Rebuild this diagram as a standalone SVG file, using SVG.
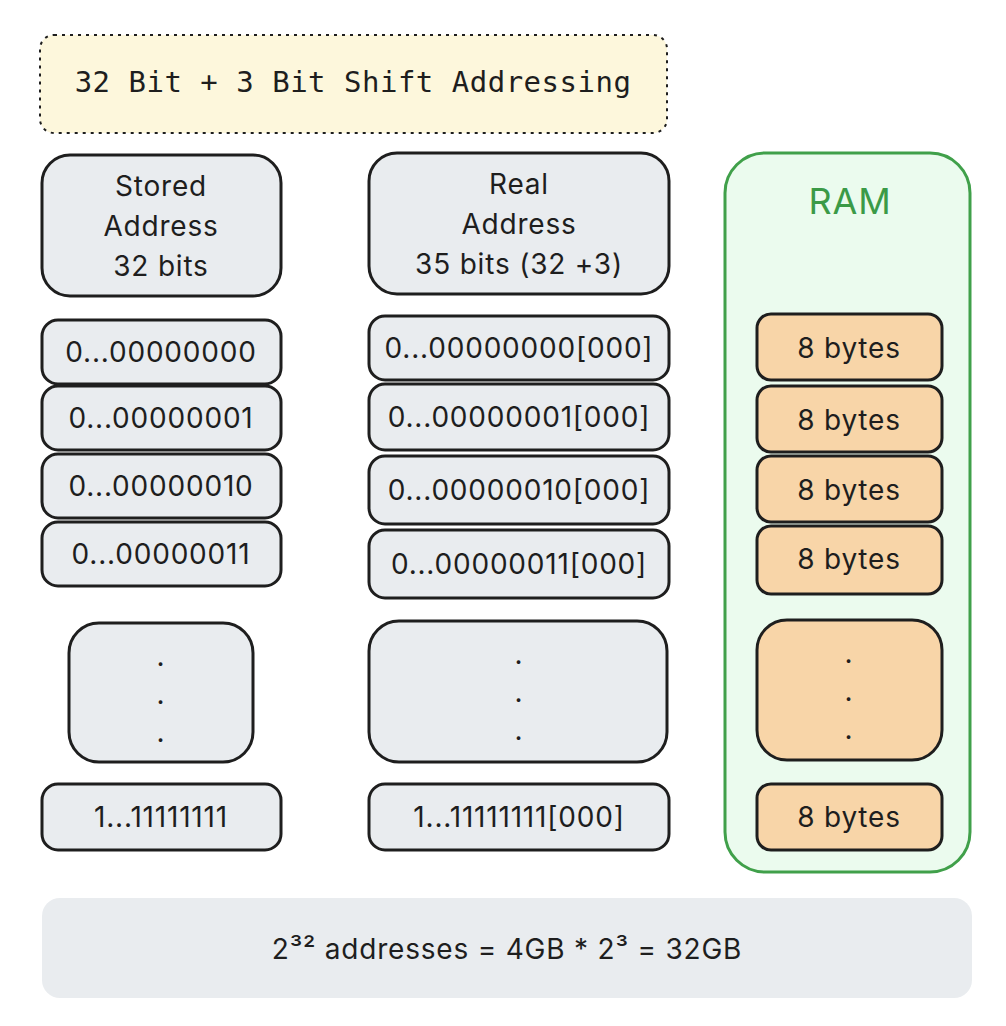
<svg xmlns="http://www.w3.org/2000/svg" width="1006" height="1026" viewBox="0 0 1006 1026">
<style>
.b{fill:#e9ecef;stroke:#1e1e1e;stroke-width:3}
.r{fill:#f8d5a8;stroke:#1e1e1e;stroke-width:3}
text{font-family:Inter,"Noto Sans",sans-serif;font-size:28px;letter-spacing:0.8px;fill:#1e1e1e;text-anchor:middle}
.m{font-family:"DejaVu Sans Mono","Liberation Mono",monospace;font-size:29px;letter-spacing:0.5px}
</style>
<rect width="1006" height="1026" fill="#fff"/>
<g id="title"><rect x="40" y="35" width="627" height="98" rx="14" fill="#fdf7dc" stroke="#1e1e1e" stroke-width="2" stroke-dasharray="3 5"/><text class="m" x="353" y="92">32 Bit + 3 Bit Shift Addressing</text></g>
<g id="ram"><rect x="725" y="153" width="245" height="719" rx="40" fill="#ebfbee" stroke="#40a04a" stroke-width="3"/><text x="850" y="214" style="fill:#3b9a47;font-size:36px">RAM</text></g>
<g id="stored-h"><rect class="b" x="42" y="155" width="239" height="141" rx="28"/><text x="161" y="196">Stored</text><text x="161" y="236">Address</text><text x="161" y="276">32 bits</text></g>
<g id="real-h"><rect class="b" x="369" y="153" width="300" height="141" rx="28"/><text x="519" y="194">Real</text><text x="519" y="234">Address</text><text x="519" y="274">35 bits (32 +3)</text></g>
<g id="s0"><rect class="b" x="42" y="320" width="239" height="64" rx="16"/><text x="161" y="362">0...00000000</text></g>
<g id="s1"><rect class="b" x="42" y="386" width="239" height="64" rx="16"/><text x="161" y="428">0...00000001</text></g>
<g id="s2"><rect class="b" x="42" y="454" width="239" height="64" rx="16"/><text x="161" y="496">0...00000010</text></g>
<g id="s3"><rect class="b" x="42" y="522" width="239" height="64" rx="16"/><text x="161" y="564">0...00000011</text></g>
<g id="sd"><rect class="b" x="69" y="623" width="184" height="139" rx="30"/><text x="161" y="666">.</text><text x="161" y="704">.</text><text x="161" y="742">.</text></g>
<g id="sl"><rect class="b" x="42" y="784" width="239" height="66" rx="16"/><text x="161" y="827">1...11111111</text></g>
<g id="r0"><rect class="b" x="369" y="316" width="300" height="64" rx="16"/><text x="519" y="358">0...00000000[000]</text></g>
<g id="r1"><rect class="b" x="369" y="384" width="300" height="66" rx="16"/><text x="519" y="427">0...00000001[000]</text></g>
<g id="r2"><rect class="b" x="369" y="456" width="300" height="68" rx="16"/><text x="519" y="500">0...00000010[000]</text></g>
<g id="r3"><rect class="b" x="369" y="530" width="300" height="68" rx="16"/><text x="519" y="574">0...00000011[000]</text></g>
<g id="rd"><rect class="b" x="369" y="621" width="298" height="141" rx="30"/><text x="519" y="664">.</text><text x="519" y="702">.</text><text x="519" y="740">.</text></g>
<g id="rl"><rect class="b" x="369" y="784" width="300" height="66" rx="16"/><text x="519" y="827">1...11111111[000]</text></g>
<g id="m0"><rect class="r" x="757" y="314" width="185" height="66" rx="14"/><text x="849" y="358">8 bytes</text></g>
<g id="m1"><rect class="r" x="757" y="386" width="185" height="66" rx="14"/><text x="849" y="430">8 bytes</text></g>
<g id="m2"><rect class="r" x="757" y="456" width="185" height="66" rx="14"/><text x="849" y="500">8 bytes</text></g>
<g id="m3"><rect class="r" x="757" y="526" width="185" height="68" rx="14"/><text x="849" y="569">8 bytes</text></g>
<g id="md"><rect class="r" x="757" y="620" width="185" height="140" rx="30"/><text x="849" y="663">.</text><text x="849" y="701">.</text><text x="849" y="739">.</text></g>
<g id="ml"><rect class="r" x="757" y="784" width="185" height="66" rx="14"/><text x="849" y="827">8 bytes</text></g>
<g id="summary"><rect x="42" y="898" width="930" height="100" rx="18" fill="#e9ecef"/><text x="507" y="959">2³² addresses = 4GB * 2³ = 32GB</text></g>
<g id="connectors"/>
</svg>
